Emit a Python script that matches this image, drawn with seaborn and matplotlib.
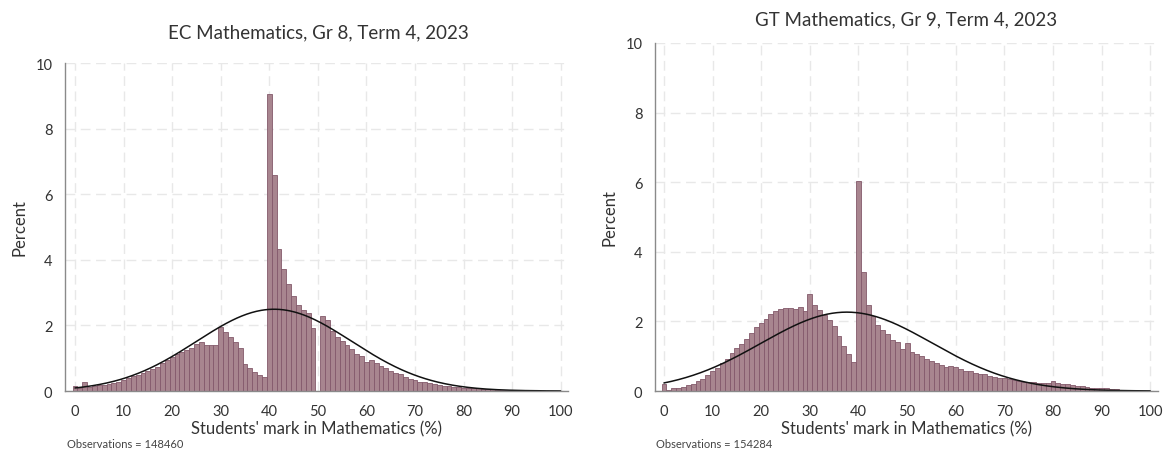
import numpy as np
import pandas as pd
import seaborn as sns
import matplotlib
matplotlib.use("Agg")
import matplotlib.pyplot as plt

# Percent of students at each whole-number mark (0..100)
marks = list(range(101))

ec_gr8_pct = [
    0.16, 0.09, 0.28, 0.12, 0.16, 0.18, 0.19, 0.21, 0.23, 0.29,
    0.34, 0.39, 0.45, 0.50, 0.56, 0.61, 0.67, 0.74, 0.86, 0.94,
    1.03, 1.13, 1.20, 1.24, 1.30, 1.42, 1.50, 1.39, 1.41, 1.41,
    1.95, 1.80, 1.64, 1.48, 1.31, 0.83, 0.70, 0.57, 0.48, 0.42,
    9.05, 6.60, 4.33, 3.72, 3.25, 2.90, 2.63, 2.47, 2.38, 1.93,
    0.00, 2.30, 2.17, 1.83, 1.64, 1.51, 1.41, 1.28, 1.12, 1.08,
    0.87, 0.95, 0.85, 0.75, 0.69, 0.61, 0.55, 0.51, 0.44, 0.37,
    0.33, 0.29, 0.26, 0.24, 0.21, 0.18, 0.16, 0.14, 0.12, 0.11,
    0.10, 0.10, 0.09, 0.09, 0.07, 0.06, 0.05, 0.04, 0.04, 0.03,
    0.03, 0.02, 0.02, 0.02, 0.01, 0.01, 0.01, 0.01, 0.00, 0.00,
    0.00,
]

gt_gr9_pct = [
    0.20, 0.03, 0.10, 0.10, 0.12, 0.16, 0.21, 0.28, 0.34, 0.45,
    0.57, 0.66, 0.80, 0.92, 1.08, 1.25, 1.36, 1.50, 1.67, 1.85,
    1.96, 2.08, 2.20, 2.30, 2.35, 2.38, 2.38, 2.37, 2.40, 2.30,
    2.80, 2.48, 2.33, 2.18, 2.05, 1.88, 1.57, 1.29, 1.06, 0.84,
    6.02, 3.41, 2.47, 2.16, 1.90, 1.76, 1.63, 1.47, 1.41, 1.21,
    1.38, 1.12, 1.06, 1.00, 0.92, 0.87, 0.80, 0.75, 0.68, 0.71,
    0.68, 0.63, 0.57, 0.57, 0.52, 0.49, 0.49, 0.44, 0.40, 0.38,
    0.36, 0.34, 0.33, 0.30, 0.27, 0.27, 0.25, 0.24, 0.23, 0.23,
    0.29, 0.23, 0.20, 0.19, 0.17, 0.15, 0.13, 0.11, 0.10, 0.10,
    0.09, 0.08, 0.06, 0.05, 0.04, 0.02, 0.01, 0.00, 0.00, 0.00,
    0.00,
]

# Fitted normal curve parameters (mean, sd) for each distribution
ec_mu, ec_sd = 41.0, 16.0
gt_mu, gt_sd = 37.6, 17.6

titles = ["EC Mathematics, Gr 8, Term 4, 2023", "GT Mathematics, Gr 9, Term 4, 2023"]
observations = [148460, 154284]
x_label = "Students' mark in Mathematics (%)"
y_label = "Percent"
x_ticks = list(range(0, 101, 10))
y_ticks = list(range(0, 11, 2))

sns.set_style("white")
plt.rcParams["font.family"] = ["Lato", "DejaVu Sans"]

BAR_FILL = "#a8858f"
BAR_EDGE = "#83596b"
GRID = "#e8e8e8"
AXIS = "#8a8a8a"
TEXT = "#333333"

W, H = 1171, 452
fig = plt.figure(figsize=(W / 100, H / 100), dpi=100)
ax_l = fig.add_axes([0.0555, 0.1327, 0.4295, 0.7257])
ax_r = fig.add_axes([0.5593, 0.1327, 0.4296, 0.7700])

panels = [
    (ax_l, ec_gr8_pct, ec_mu, ec_sd, (-2.06, 101.5), titles[0], observations[0],
     (318, 33), 67),
    (ax_r, gt_gr9_pct, gt_mu, gt_sd, (-1.85, 101.6), titles[1], observations[1],
     (906, 20), 656),
]

for ax, pct, mu, sd, xlim, title, n_obs, title_xy, obs_x in panels:
    df = pd.DataFrame({"mark": marks, "pct": pct})
    sns.histplot(data=df, x="mark", weights="pct", binwidth=1,
                 binrange=(-0.5, 100.5), ax=ax,
                 color=BAR_FILL, edgecolor=BAR_EDGE, linewidth=0.6, alpha=1.0)

    xs = np.linspace(0, 100, 400)
    dens = 100.0 * np.exp(-0.5 * ((xs - mu) / sd) ** 2) / (sd * np.sqrt(2 * np.pi))
    sns.lineplot(x=xs, y=dens, ax=ax, color="#111111", linewidth=1.1)

    ax.set_xlim(*xlim)
    ax.set_ylim(0, 10)
    ax.set_xticks(x_ticks)
    ax.set_yticks(y_ticks)
    ax.grid(True, color=GRID, linestyle=(0, (7, 4)), linewidth=1.0)
    ax.set_axisbelow(True)
    for side in ("top", "right"):
        ax.spines[side].set_visible(False)
    for side in ("left", "bottom"):
        ax.spines[side].set_color(AXIS)
        ax.spines[side].set_linewidth(1.0)
    ax.tick_params(axis="both", direction="out", length=5, width=1.0,
                   color=AXIS, labelcolor=TEXT, labelsize=10.5, pad=4)
    ax.set_xlabel(x_label, fontsize=12, color=TEXT, labelpad=2)
    ax.set_ylabel(y_label, fontsize=12, color=TEXT, labelpad=6)

    fig.text(title_xy[0] / W, 1 - title_xy[1] / H, title, fontsize=13.5,
             color=TEXT, ha="center", va="center")
    fig.text(obs_x / W, 1 - 445 / H, f"Observations = {n_obs}",
             fontsize=8, color="#444444", ha="left", va="center")

fig.savefig("out.png", dpi=100)
